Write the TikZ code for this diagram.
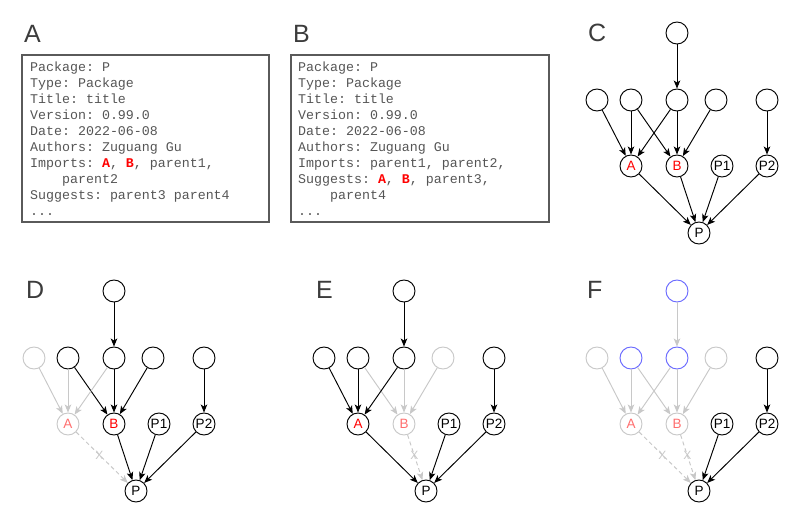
\documentclass[tikz,border=0pt]{standalone}
\usepackage{fontspec}
\setmainfont{Liberation Sans}
\setmonofont{Liberation Mono}
\usepackage{tikz}
\usetikzlibrary{arrows.meta}
\usepackage{xcolor}
\definecolor{inkgray}{RGB}{60,60,60}
\definecolor{listgray}{RGB}{85,85,85}
\definecolor{framegray}{RGB}{90,90,90}
\definecolor{fadegray}{RGB}{200,200,200}
\definecolor{fadered}{RGB}{255,110,110}
\definecolor{pathblue}{RGB}{105,105,255}
\newcommand{\dephit}[1]{\textcolor{red}{\textbf{#1}}}
\tikzset{
  panel/.style={anchor=base west, inner sep=0pt, text=inkgray, font=\fontsize{25}{30}\selectfont},
  listbox/.style={rectangle, draw=framegray, line width=1.1pt, minimum width=247pt, minimum height=167pt, inner sep=0pt},
  listtext/.style={anchor=north west, inner sep=0pt, align=left, text=listgray,
                   font=\fontsize{13.3}{16}\selectfont\ttfamily},
  vtx/.style={circle, draw, line width=0.95pt, minimum size=22pt, inner sep=0pt,
              font=\fontsize{13.5}{15}\selectfont},
  vtxgray/.style={vtx, draw=fadegray},
  vtxblue/.style={vtx, draw=pathblue},
  dep/.style={-{Stealth[length=8pt, width=6.5pt, inset=2pt]}, line width=0.95pt},
  depgray/.style={dep, fadegray},
  depcut/.style={depgray, dash pattern=on 4pt off 3pt},
  cutmark/.style={font=\fontsize{12}{14}\selectfont, text=fadegray, inner sep=0pt},
}

\begin{document}
\begin{tikzpicture}[x=1pt, y=-1pt]
\useasboundingbox (0,0) rectangle (789,516);

% A: parents in Imports
\node[panel] (labA) at (24,43) {A};
\node[listbox] (boxA) at (145.5,138.5) {};
\node[listtext] (txtA) at (30,61.5) {Package: P\\Type: Package\\Title: title\\Version: 0.99.0\\Date: 2022-06-08\\Authors: Zuguang Gu\\Imports: \dephit{A}, \dephit{B}, parent1,\\\phantom{Impo}parent2\\Suggests: parent3 parent4\\...};

% B: parents in Suggests
\node[panel] (labB) at (293,43) {B};
\node[listbox, minimum width=258pt] (boxB) at (420,138.5) {};
\node[listtext] (txtB) at (298,61.5) {Package: P\\Type: Package\\Title: title\\Version: 0.99.0\\Date: 2022-06-08\\Authors: Zuguang Gu\\Imports: parent1, parent2,\\Suggests: \dephit{A}, \dephit{B}, parent3,\\\phantom{Sugg}parent4\\...};

% C: full dependency graph
\node[panel] (labC) at (588,42) {C};
\begin{scope}[shift={(677,33)}]
\node[vtx] (cTop) at (0,0) {};
\node[vtx] (cU1) at (-80,67) {};
\node[vtx] (cU2) at (-46,67) {};
\node[vtx] (cU3) at (0,67) {};
\node[vtx] (cU4) at (39,67) {};
\node[vtx] (cU5) at (90,67) {};
\node[vtx, text=red] (cA) at (-46,133) {A};
\node[vtx, text=red] (cB) at (0,133) {B};
\node[vtx] (cP1) at (45,133) {P1};
\node[vtx] (cP2) at (90,133) {P2};
\node[vtx] (cP) at (22,200) {P};
\end{scope}
\draw[dep] (cTop) -- (cU3);
\draw[dep] (cU1) -- (cA);
\draw[dep] (cU2) -- (cA);
\draw[dep] (cU2) -- (cB);
\draw[dep] (cU3) -- (cA);
\draw[dep] (cU3) -- (cB);
\draw[dep] (cU4) -- (cB);
\draw[dep] (cU5) -- (cP2);
\draw[dep] (cA) -- (cP);
\draw[dep] (cB) -- (cP);
\draw[dep] (cP1) -- (cP);
\draw[dep] (cP2) -- (cP);

% D: A removed
\node[panel] (labD) at (26,298) {D};
\begin{scope}[shift={(114,291)}]
\node[vtx] (dTop) at (0,0) {};
\node[vtxgray] (dU1) at (-80,67) {};
\node[vtx] (dU2) at (-46,67) {};
\node[vtx] (dU3) at (0,67) {};
\node[vtx] (dU4) at (39,67) {};
\node[vtx] (dU5) at (90,67) {};
\node[vtxgray, text=fadered] (dA) at (-46,133) {A};
\node[vtx, text=red] (dB) at (0,133) {B};
\node[vtx] (dP1) at (45,133) {P1};
\node[vtx] (dP2) at (90,133) {P2};
\node[vtx] (dP) at (22,200) {P};
\end{scope}
\draw[dep] (dTop) -- (dU3);
\draw[depgray] (dU1) -- (dA);
\draw[depgray] (dU2) -- (dA);
\draw[dep] (dU2) -- (dB);
\draw[depgray] (dU3) -- (dA);
\draw[dep] (dU3) -- (dB);
\draw[dep] (dU4) -- (dB);
\draw[dep] (dU5) -- (dP2);
\draw[depcut] (dA) -- node[cutmark, pos=0.45] {X} (dP);
\draw[dep] (dB) -- (dP);
\draw[dep] (dP1) -- (dP);
\draw[dep] (dP2) -- (dP);

% E: B removed
\node[panel] (labE) at (316,298) {E};
\begin{scope}[shift={(404,291)}]
\node[vtx] (eTop) at (0,0) {};
\node[vtx] (eU1) at (-80,67) {};
\node[vtx] (eU2) at (-46,67) {};
\node[vtx] (eU3) at (0,67) {};
\node[vtxgray] (eU4) at (39,67) {};
\node[vtx] (eU5) at (90,67) {};
\node[vtx, text=red] (eA) at (-46,133) {A};
\node[vtxgray, text=fadered] (eB) at (0,133) {B};
\node[vtx] (eP1) at (45,133) {P1};
\node[vtx] (eP2) at (90,133) {P2};
\node[vtx] (eP) at (22,200) {P};
\end{scope}
\draw[dep] (eTop) -- (eU3);
\draw[dep] (eU1) -- (eA);
\draw[dep] (eU2) -- (eA);
\draw[depgray] (eU2) -- (eB);
\draw[dep] (eU3) -- (eA);
\draw[depgray] (eU3) -- (eB);
\draw[depgray] (eU4) -- (eB);
\draw[dep] (eU5) -- (eP2);
\draw[dep] (eA) -- (eP);
\draw[depcut] (eB) -- node[cutmark, pos=0.45] {X} (eP);
\draw[dep] (eP1) -- (eP);
\draw[dep] (eP2) -- (eP);

% F: A and B removed
\node[panel] (labF) at (587,298) {F};
\begin{scope}[shift={(677,291)}]
\node[vtxblue] (fTop) at (0,0) {};
\node[vtxgray] (fU1) at (-80,67) {};
\node[vtxblue] (fU2) at (-46,67) {};
\node[vtxblue] (fU3) at (0,67) {};
\node[vtxgray] (fU4) at (39,67) {};
\node[vtx] (fU5) at (90,67) {};
\node[vtxgray, text=fadered] (fA) at (-46,133) {A};
\node[vtxgray, text=fadered] (fB) at (0,133) {B};
\node[vtx] (fP1) at (45,133) {P1};
\node[vtx] (fP2) at (90,133) {P2};
\node[vtx] (fP) at (22,200) {P};
\end{scope}
\draw[depgray] (fTop) -- (fU3);
\draw[depgray] (fU1) -- (fA);
\draw[depgray] (fU2) -- (fA);
\draw[depgray] (fU2) -- (fB);
\draw[depgray] (fU3) -- (fA);
\draw[depgray] (fU3) -- (fB);
\draw[depgray] (fU4) -- (fB);
\draw[dep] (fU5) -- (fP2);
\draw[depcut] (fA) -- node[cutmark, pos=0.45] {X} (fP);
\draw[depcut] (fB) -- node[cutmark, pos=0.45] {X} (fP);
\draw[dep] (fP1) -- (fP);
\draw[dep] (fP2) -- (fP);
\end{tikzpicture}
\end{document}
